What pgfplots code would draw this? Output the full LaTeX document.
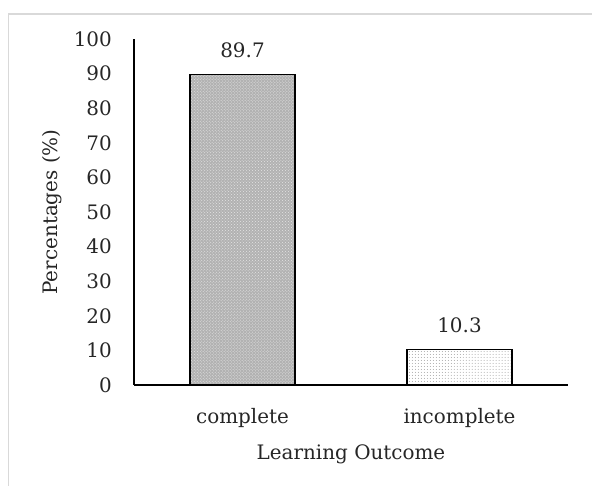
\documentclass[border=0pt]{standalone}
\usepackage{fontspec}
\setmainfont{DejaVu Serif}
\usepackage{pgfplots}
\pgfplotsset{compat=1.18}
\usetikzlibrary{patterns}
\newcommand{\chartfont}{\fontsize{20}{24}\selectfont}
\begin{document}
\begin{tikzpicture}
\path[use as bounding box] (0,0) rectangle (592bp,486bp);
% chart area frame (only top and left edges visible)
\draw[draw=black!15, line width=1.5bp] (8.5bp,0) -- (8.5bp,472bp) -- (592bp,472bp);
\begin{axis}[
  at={(134bp,101bp)}, anchor=south west,
  scale only axis, width=434bp, height=346bp,
  ybar, bar width=105bp,
  xmin=-0.5, xmax=1.5, ymin=0, ymax=100,
  ytick={0,10,...,100},
  xtick={0,1}, xticklabels={complete,incomplete},
  axis x line*=bottom, axis y line*=left,
  axis line style={line width=1.5bp, -},
  major tick length=0pt,
  /pgf/number format/assume math mode=true,
  every tick label/.append style={font=\chartfont, text=black!85},
  yticklabel style={anchor=east, inner sep=0pt, xshift=-22bp},
  xticklabel style={anchor=base, inner sep=0pt, yshift=-39bp},
  xlabel={Learning Outcome},
  ylabel={Percentages (\%)},
  xlabel style={at={(axis description cs:0.5,0)}, anchor=base, inner sep=0pt, yshift=-74bp, font=\chartfont, text=black!85},
  ylabel style={at={(axis description cs:0,0.5)}, anchor=base, inner sep=0pt, yshift=76bp, font=\chartfont, text=black!85},
  nodes near coords,
  every node near coord/.append style={font=\chartfont, text=black!85, anchor=base, inner sep=0pt, yshift=16.7bp,
    /pgf/number format/fixed, /pgf/number format/precision=1, /pgf/number format/fixed zerofill},
]
\addplot[bar shift=0pt, draw=black, line width=1.5bp, fill=black!30,
  postaction={pattern=crosshatch dots, pattern color=white!90!black}]
  coordinates {(0,89.7)};
\addplot[bar shift=0pt, draw=black, line width=1.5bp, fill=white,
  postaction={pattern=dots, pattern color=black!35}]
  coordinates {(1,10.3)};
\end{axis}
\end{tikzpicture}
\end{document}
